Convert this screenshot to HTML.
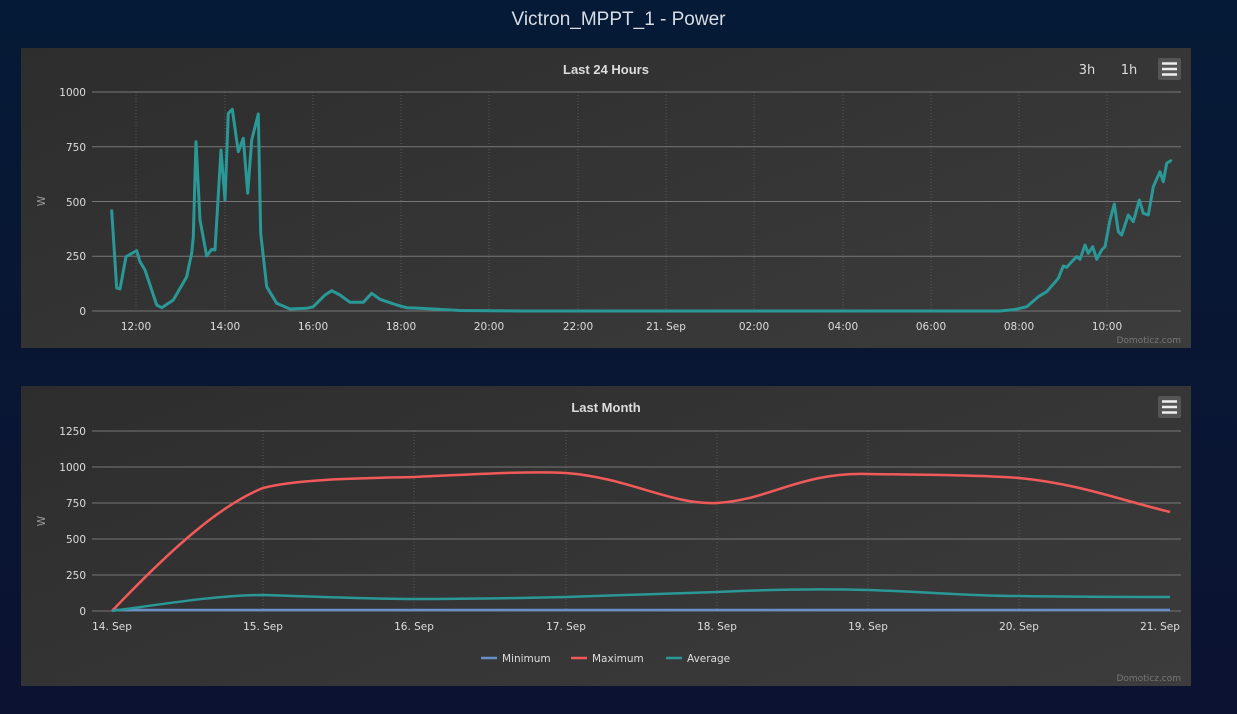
<!DOCTYPE html>
<html><head><style>
body{margin:0;width:1237px;height:714px;background:linear-gradient(#051a36,#0c1232);font-family:"Liberation Sans","DejaVu Sans",sans-serif;overflow:hidden;position:relative}
.t{position:absolute;top:9px;left:0;width:1237px;text-align:center;color:#d8dde6;font-size:19px}
.p{position:absolute;left:21px;width:1170px;height:300px;background:linear-gradient(160deg,#2d2d2d,#3c3c3c)}
svg{position:absolute;left:0;top:0}
text{font-family:"DejaVu Sans",sans-serif;fill:#ddd;font-size:10.5px}
</style></head><body>
<div class="t">Victron_MPPT_1 - Power</div>
<div class="p" style="top:48px"></div>
<div class="p" style="top:386px"></div>
<svg width="1237" height="714">
<g stroke="#555" stroke-dasharray="1,2">
<line x1="136" y1="92" x2="136" y2="311"/><line x1="225" y1="92" x2="225" y2="311"/><line x1="313" y1="92" x2="313" y2="311"/><line x1="401" y1="92" x2="401" y2="311"/><line x1="489" y1="92" x2="489" y2="311"/><line x1="578" y1="92" x2="578" y2="311"/><line x1="666" y1="92" x2="666" y2="311"/><line x1="754" y1="92" x2="754" y2="311"/><line x1="843" y1="92" x2="843" y2="311"/><line x1="931" y1="92" x2="931" y2="311"/><line x1="1019" y1="92" x2="1019" y2="311"/><line x1="1107" y1="92" x2="1107" y2="311"/>
<line x1="263" y1="431" x2="263" y2="611"/><line x1="414" y1="431" x2="414" y2="611"/><line x1="566" y1="431" x2="566" y2="611"/><line x1="717" y1="431" x2="717" y2="611"/><line x1="868" y1="431" x2="868" y2="611"/><line x1="1019" y1="431" x2="1019" y2="611"/>
</g>
<g stroke="#777" stroke-width="1">
<line x1="92" y1="92" x2="1181" y2="92"/><line x1="92" y1="146.75" x2="1181" y2="146.75"/><line x1="92" y1="201.5" x2="1181" y2="201.5"/><line x1="92" y1="256.25" x2="1181" y2="256.25"/><line x1="92" y1="311" x2="1181" y2="311"/>
<line x1="92" y1="431" x2="1181" y2="431"/><line x1="92" y1="467" x2="1181" y2="467"/><line x1="92" y1="503" x2="1181" y2="503"/><line x1="92" y1="539" x2="1181" y2="539"/><line x1="92" y1="575" x2="1181" y2="575"/><line x1="92" y1="611" x2="1181" y2="611"/>
</g>
<text x="606" y="74" text-anchor="middle" style="font-size:13px;font-weight:bold;font-family:'Liberation Sans',sans-serif">Last 24 Hours</text>
<text x="606" y="412" text-anchor="middle" style="font-size:13px;font-weight:bold;font-family:'Liberation Sans',sans-serif">Last Month</text>
<text x="1087" y="74" text-anchor="middle" style="font-size:13px">3h</text>
<text x="1129" y="74" text-anchor="middle" style="font-size:13px">1h</text>
<rect x="1158" y="58" width="23" height="22" rx="2" fill="#555"/>
<g stroke="#eee" stroke-width="2.5"><line x1="1162" y1="63.5" x2="1177" y2="63.5"/><line x1="1162" y1="69" x2="1177" y2="69"/><line x1="1162" y1="74.5" x2="1177" y2="74.5"/></g>
<rect x="1158" y="396" width="23" height="22" rx="2" fill="#555"/>
<g stroke="#eee" stroke-width="2.5"><line x1="1162" y1="401.5" x2="1177" y2="401.5"/><line x1="1162" y1="407" x2="1177" y2="407"/><line x1="1162" y1="412.5" x2="1177" y2="412.5"/></g>
<g text-anchor="end">
<text x="86" y="96">1000</text><text x="86" y="151">750</text><text x="86" y="206">500</text><text x="86" y="260">250</text><text x="86" y="315">0</text>
<text x="86" y="435">1250</text><text x="86" y="471">1000</text><text x="86" y="507">750</text><text x="86" y="543">500</text><text x="86" y="579">250</text><text x="86" y="615">0</text>
</g>
<text transform="translate(45,201) rotate(-90)" text-anchor="middle" style="fill:#999">W</text>
<text transform="translate(45,521) rotate(-90)" text-anchor="middle" style="fill:#999">W</text>
<g text-anchor="middle">
<text x="136" y="330">12:00</text><text x="225" y="330">14:00</text><text x="313" y="330">16:00</text><text x="401" y="330">18:00</text><text x="489" y="330">20:00</text><text x="578" y="330">22:00</text><text x="666" y="330">21. Sep</text><text x="754" y="330">02:00</text><text x="843" y="330">04:00</text><text x="931" y="330">06:00</text><text x="1019" y="330">08:00</text><text x="1107" y="330">10:00</text>
<text x="112" y="630">14. Sep</text><text x="263" y="630">15. Sep</text><text x="414" y="630">16. Sep</text><text x="566" y="630">17. Sep</text><text x="717" y="630">18. Sep</text><text x="868" y="630">19. Sep</text><text x="1019" y="630">20. Sep</text><text x="1160" y="630">21. Sep</text>
</g>
<text x="1181" y="343" text-anchor="end" style="fill:#777;font-size:9px">Domoticz.com</text>
<text x="1181" y="681" text-anchor="end" style="fill:#777;font-size:9px">Domoticz.com</text>
<polyline fill="none" stroke="#2a9896" stroke-width="3" stroke-linejoin="round" stroke-linecap="round" points="111.7,210.7 116.7,288 120,289 126,256.7 136.7,250.7 140,261.7 145,270 156.7,305 161.7,307.7 173.3,300 186.7,276.7 191.7,253 193.3,236.7 196,141.7 200,220 206.7,256 211.7,249.3 215,250 221,150 225,200 228.3,113.3 232.3,109.3 238.3,151.7 243.3,138.3 247.7,193.3 251.7,140 258.3,114 260.7,233.3 266.7,286.7 276.7,303.3 290,309 306.7,308.3 313.3,306.7 325,295 331.7,290.7 340,295 350,302.3 363.3,302.3 371.7,293.3 380,299.3 396.7,305 406.7,307.7 420,308.3 460,310.5 520,311 1000,311 1015,309.5 1026.7,306.7 1038.3,296.7 1046.7,291.7 1058.3,278.3 1063.3,266 1066.7,267.3 1071.7,261.7 1076.7,256.7 1080,259.3 1085,245 1088.3,253.3 1092.7,246.7 1096.7,259.3 1101.7,250 1105,246.7 1110,220 1114.3,204 1118.3,231.7 1121.7,235 1128.3,215 1133.3,221.7 1139.3,200 1143.3,213.3 1148.3,215 1153.3,186.7 1160,171.7 1163.3,181.7 1166.7,163.3 1170.7,160.7"/>
<line x1="112" y1="610" x2="1170" y2="610" stroke="#6a8fc8" stroke-width="2.5"/>
<path fill="none" stroke="#f25a5a" stroke-width="2.5" d="M112,611 C170,550 220,505 263,488 C300,478 380,478 414,477 C480,474 530,471 566,473 C630,478 670,505 717,503 C770,500 800,472 868,474 C930,475 980,475 1019,478 C1080,484 1120,500 1170,512"/>
<path fill="none" stroke="#2a9896" stroke-width="2.5" d="M112,611 C170,603 220,595 263,595 C330,597 370,599 414,599 C480,599 520,598 566,597 C640,595 680,593 717,592 C780,589 830,589 868,590 C930,592 970,596 1019,596 C1080,597 1130,597 1170,597"/>
<line x1="481" y1="658" x2="497" y2="658" stroke="#6a8fc8" stroke-width="2.5"/><text x="502" y="662">Minimum</text>
<line x1="571" y1="658" x2="587" y2="658" stroke="#f25a5a" stroke-width="2.5"/><text x="592" y="662">Maximum</text>
<line x1="666" y1="658" x2="682" y2="658" stroke="#2a9896" stroke-width="2.5"/><text x="687" y="662">Average</text>
</svg>
</body></html>
